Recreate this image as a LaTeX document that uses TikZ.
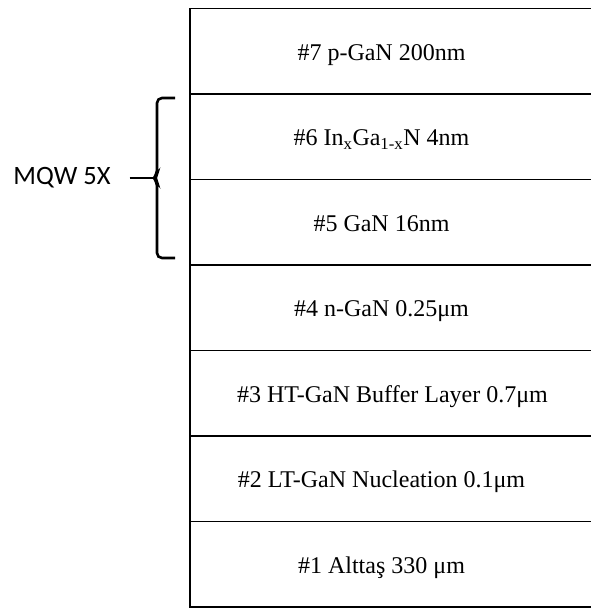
\documentclass[tikz,border=0pt]{standalone}
\usepackage{fontspec}
\setmainfont{Liberation Serif}
\newfontfamily\calibri{Carlito}
\usetikzlibrary{positioning}

\begin{document}
\begin{tikzpicture}[x=1pt, y=-1pt,
    layer/.style={draw, rectangle, line width=1.5pt, minimum width=403pt, minimum height=85.5pt, outer sep=0pt, inner sep=0pt},
    lbl/.style={font=\fontsize{24}{28}\selectfont, text height=20pt, text depth=2pt, inner sep=0pt},
    node distance=0pt]
    \useasboundingbox (0,0) rectangle (590,608);
    % Couches
    \node[layer] (l7) at (391.5,51.25) {};
    \node[layer, below=of l7] (l6) {};
    \node[layer, below=of l6] (l5) {};
    \node[layer, below=of l5] (l4) {};
    \node[layer, below=of l4] (l3) {};
    \node[layer, below=of l3] (l2) {};
    \node[layer, below=of l2] (l1) {};

    % Textes des couches
    \node[lbl] (t7) at ([xshift=-10pt]l7.center) {\#7 p-GaN 200nm};
    \node[lbl] (t6) at ([xshift=-10pt]l6.center) {\#6 In\textsubscript{x}Ga\textsubscript{1-x}N 4nm};
    \node[lbl] (t5) at ([xshift=-10pt]l5.center) {\#5 GaN 16nm};
    \node[lbl] (t4) at ([xshift=-10pt]l4.center) {\#4 n-GaN 0.25μm};
    \node[lbl] (t3) at ([xshift=1pt]l3.center) {\#3 HT-GaN Buffer Layer 0.7μm};
    \node[lbl] (t2) at ([xshift=-10pt]l2.center) {\#2 LT-GaN Nucleation 0.1μm};
    \node[lbl] (t1) at ([xshift=-10pt]l1.center) {\#1 Alttaş 330 μm};

    % Accolade MQW
    \node[font=\calibri\fontsize{26.5}{30}\selectfont, inner sep=0pt] (mqw) at (62,178) {MQW 5X};
    \coordinate (cusp) at (154,178);
    \draw[line width=2.6pt, rounded corners=5pt] (175,98) -- (157,98) -- (157,174) -- (cusp) -- (157,182) -- (157,258) -- (175,258);
    \draw[line width=2.6pt] ([xshift=19pt]mqw.east) -- (cusp);
\end{tikzpicture}
\end{document}
